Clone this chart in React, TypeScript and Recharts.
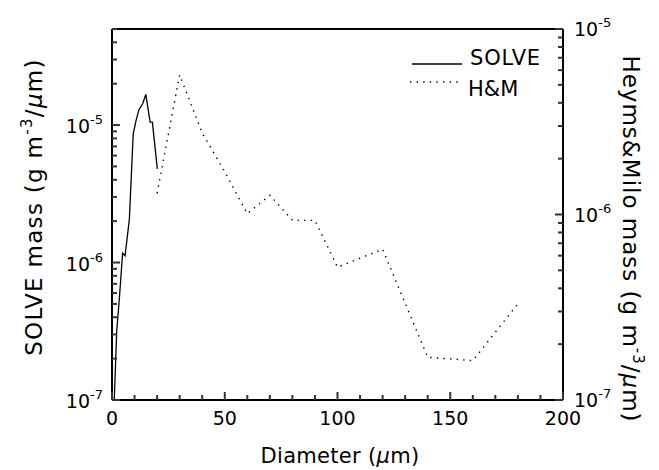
import React from 'react';
import { LineChart, Line, XAxis, YAxis } from 'recharts';

// SOLVE size distribution (left axis)
const solveDiameter = [1, 2.1, 3.2, 4.7, 5.8, 7.7, 9.4, 10.6, 12, 13.6, 15, 16.9, 17.9, 20.1];
const solveMass = [1e-7, 3.2e-7, 5.3e-7, 1.17e-6, 1.12e-6, 2.07e-6, 8.6e-6, 1.07e-5, 1.3e-5, 1.43e-5, 1.67e-5, 1.05e-5, 1.05e-5, 4.8e-6];

// Heymsfield & Milosevich (right axis)
const hmDiameter = [20, 30, 40, 50, 60, 70, 80, 90, 100, 120, 140, 160, 180];
const hmMass = [1.3e-6, 5.65e-6, 2.75e-6, 1.7e-6, 1.01e-6, 1.27e-6, 9.3e-7, 9.3e-7, 5.2e-7, 6.5e-7, 1.7e-7, 1.63e-7, 3.3e-7];

const xTicks = [0, 10, 20, 30, 40, 50, 60, 70, 80, 90, 100, 110, 120, 130, 140, 150, 160, 170, 180, 190, 200];
const leftTicks = [
  1e-7, 2e-7, 3e-7, 4e-7, 5e-7, 6e-7, 7e-7, 8e-7, 9e-7,
  1e-6, 2e-6, 3e-6, 4e-6, 5e-6, 6e-6, 7e-6, 8e-6, 9e-6,
  1e-5, 2e-5, 3e-5, 4e-5, 5e-5,
];
const rightTicks = [
  1e-7, 2e-7, 3e-7, 4e-7, 5e-7, 6e-7, 7e-7, 8e-7, 9e-7,
  1e-6, 2e-6, 3e-6, 4e-6, 5e-6, 6e-6, 7e-6, 8e-6, 9e-6,
  1e-5,
];

const solveData = solveDiameter.map((d, i) => ({ d, mass: solveMass[i] }));
const hmData = hmDiameter.map((d, i) => ({ d, mass: hmMass[i] }));

const FONT = 'DejaVu Sans';

const isDecade = (v: number) => {
  const l = Math.log10(v);
  return Math.abs(l - Math.round(l)) < 1e-6;
};

const Pow = ({ v }: { v: number }) => (
  <>
    <tspan>10</tspan>
    <tspan dy={-9} fontSize={13}>{Math.round(Math.log10(v))}</tspan>
  </>
);

// ticks are drawn as filled polygons (thin quads) pointing into the plot
const quadV = (x: number, y0: number, y1: number, w: number) =>
  `${x - w / 2},${y0} ${x + w / 2},${y0} ${x + w / 2},${y1} ${x - w / 2},${y1}`;
const quadH = (y: number, x0: number, x1: number, w: number) =>
  `${x0},${y - w / 2} ${x1},${y - w / 2} ${x1},${y + w / 2} ${x0},${y + w / 2}`;

const BottomTick = (p: any) => {
  const major = p.payload.value % 50 === 0;
  return (
    <g>
      <polygon points={quadV(p.x, p.y, p.y - (major ? 8 : 5), 2)} fill="#333" />
      {major && (
        <text x={p.x} y={p.y + 25} textAnchor="middle" fontSize={19} fontFamily={FONT} fill="#000">
          {p.payload.value}
        </text>
      )}
    </g>
  );
};

const TopTick = (p: any) => {
  const major = p.payload.value % 50 === 0;
  return (
    <g>
      <polygon points={quadV(p.x, p.y, p.y + (major ? 8 : 5), 2)} fill="#333" />
    </g>
  );
};

const LeftTick = (p: any) => {
  const major = isDecade(p.payload.value);
  return (
    <g>
      <polygon points={quadH(p.y, p.x, p.x + (major ? 8 : 5), 2)} fill="#333" />
      {major && (
        <text x={p.x - 9} y={p.y + 8} textAnchor="end" fontSize={19} fontFamily={FONT} fill="#000">
          <Pow v={p.payload.value} />
        </text>
      )}
    </g>
  );
};

const RightTick = (p: any) => {
  const major = isDecade(p.payload.value);
  return (
    <g>
      <polygon points={quadH(p.y, p.x, p.x - (major ? 8 : 5), 2)} fill="#333" />
      {major && (
        <text x={p.x + 11} y={p.y + 7} textAnchor="start" fontSize={19} fontFamily={FONT} fill="#000">
          <Pow v={p.payload.value} />
        </text>
      )}
    </g>
  );
};

const XTitle = () => (
  <text x={340} y={463} textAnchor="middle" fontSize={21} letterSpacing={0.3} fontFamily={FONT} fill="#000">
    Diameter (<tspan fontStyle="italic">μ</tspan>m)
  </text>
);

const LeftTitle = () => (
  <text transform="translate(42,207) rotate(-90)" textAnchor="middle" fontSize={23} letterSpacing={1.3} fontFamily={FONT} fill="#000">
    SOLVE mass (g m<tspan dy={-10} fontSize={15}>-3</tspan>
    <tspan dy={10}>/</tspan>
    <tspan fontStyle="italic">μ</tspan>m)
  </text>
);

const RightTitle = () => (
  <text transform="translate(623,239) rotate(90)" textAnchor="middle" fontSize={23} letterSpacing={1} fontFamily={FONT} fill="#000">
    Heyms&amp;Milo mass (g m<tspan dy={-10} fontSize={15}>-3</tspan>
    <tspan dy={10}>/</tspan>
    <tspan fontStyle="italic">μ</tspan>m)
  </text>
);

const LegendBox = () => (
  <g fontFamily={FONT} fill="#000">
    <line x1={412} x2={462} y1={64} y2={64} stroke="#000" strokeWidth={1.3} />
    <text x={470} y={65} fontSize={21} letterSpacing={0.8}>SOLVE</text>
    <line x1={410} x2={460} y1={82} y2={82} stroke="#000" strokeWidth={1.4} strokeDasharray="1.4 5.2" />
    <text x={468} y={96} fontSize={21}>H&amp;M</text>
  </g>
);

export default function App() {
  return (
    <div style={{ position: 'absolute', left: 0, top: 0, width: 659, height: 470, background: '#fff' }}>
      <LineChart width={659} height={470} margin={{ top: 28, right: 10, left: 12, bottom: 10 }}>
        <XAxis
          xAxisId="bottom"
          dataKey="d"
          type="number"
          domain={[0, 200]}
          ticks={xTicks}
          interval={0}
          height={60}
          tickLine={false}
          tickSize={0}
          tickMargin={0}
          tick={<BottomTick />}
          axisLine={{ stroke: '#000', strokeWidth: 2 }}
          label={<XTitle />}
        />
        <XAxis
          xAxisId="top"
          orientation="top"
          dataKey="d"
          type="number"
          domain={[0, 200]}
          ticks={xTicks}
          interval={0}
          height={1}
          tickLine={false}
          tickSize={0}
          tickMargin={0}
          tick={<TopTick />}
          axisLine={{ stroke: '#000', strokeWidth: 2 }}
          label={<LegendBox />}
        />
        <YAxis
          yAxisId="left"
          scale="log"
          type="number"
          domain={[1e-7, 5e-5]}
          allowDataOverflow
          ticks={leftTicks}
          interval={0}
          width={100}
          tickLine={false}
          tickSize={0}
          tickMargin={0}
          tick={<LeftTick />}
          axisLine={{ stroke: '#000', strokeWidth: 2 }}
          label={<LeftTitle />}
        />
        <YAxis
          yAxisId="right"
          orientation="right"
          scale="log"
          type="number"
          domain={[1e-7, 1e-5]}
          allowDataOverflow
          ticks={rightTicks}
          interval={0}
          width={86}
          tickLine={false}
          tickSize={0}
          tickMargin={0}
          tick={<RightTick />}
          axisLine={{ stroke: '#000', strokeWidth: 2 }}
          label={<RightTitle />}
        />
        <Line
          data={solveData}
          dataKey="mass"
          xAxisId="bottom"
          yAxisId="left"
          type="linear"
          stroke="#000"
          strokeWidth={1.3}
          dot={false}
          isAnimationActive={false}
        />
        <Line
          data={hmData}
          dataKey="mass"
          xAxisId="bottom"
          yAxisId="right"
          type="linear"
          stroke="#000"
          strokeWidth={1.4}
          strokeDasharray="1.4 5.2"
          dot={false}
          isAnimationActive={false}
        />
      </LineChart>
    </div>
  );
}
